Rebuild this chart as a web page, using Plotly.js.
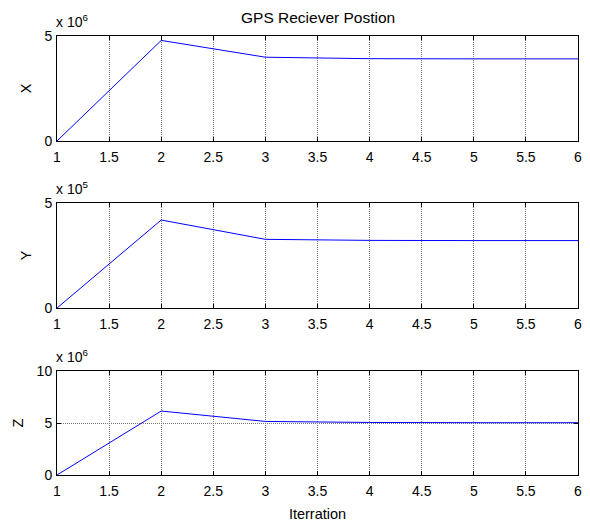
<!DOCTYPE html>
<html>
<head>
<script src="https://cdn.plot.ly/plotly-3.0.1.min.js"></script>
<style>html,body{margin:0;padding:0;background:#fff;}</style>
</head>
<body>
<div id="chart" style="width:590px;height:525px;"></div>
<script>
const iterations = [1, 2, 3, 4, 5, 6];
const xPos = [0, 4.79e6, 3.99e6, 3.92e6, 3.91e6, 3.91e6];
const yPos = [0, 4.19e5, 3.27e5, 3.22e5, 3.21e5, 3.21e5];
const zPos = [0, 6.15e6, 5.15e6, 5.05e6, 5.03e6, 5.03e6];
const xTicks = [1, 1.5, 2, 2.5, 3, 3.5, 4, 4.5, 5, 5.5, 6];
const titleText = 'GPS Reciever Postion';
const xLabel = 'Iterration';

const W = 590, H = 525;
const px = (a, b) => [a / W, b / W];
const py = (top, bot) => [1 - bot / H, 1 - top / H];
const fam = 'Liberation Sans, Arial, sans-serif';
const font = {family: fam, size: 14.5, color: '#000'};
const titleFont = {family: fam, size: 15.5, color: '#000'};
const tickFont = {family: fam, size: 14, color: '#000'};

function xa(anchor, showTitle) {
  const a = {
    domain: px(57, 578), range: [1, 6], anchor: anchor,
    tickvals: xTicks, ticktext: xTicks.map(String),
    ticks: 'inside', ticklen: 4, tickcolor: '#000',
    showline: true, linecolor: '#000', linewidth: 1, mirror: 'ticks',
    showgrid: true, gridcolor: '#777', griddash: '1px,1px', gridwidth: 1,
    zeroline: false, tickfont: tickFont, ticklabelstandoff: 3
  };
  if (showTitle) a.title = {text: xLabel, font: font, standoff: 11};
  return a;
}
function ya(anchor, dom, range, vals, texts, label) {
  return {
    domain: dom, range: range, anchor: anchor,
    tickvals: vals, ticktext: texts,
    ticks: 'inside', ticklen: 4, tickcolor: '#000',
    showline: true, linecolor: '#000', linewidth: 1, mirror: 'ticks',
    showgrid: true, gridcolor: '#777', griddash: '1px,1px', gridwidth: 1,
    zeroline: false, tickfont: tickFont, ticklabelstandoff: 1,
    title: {text: label, font: font, standoff: 9}
  };
}

const line = {color: '#0000ff', width: 1};
const data = [
  {x: iterations, y: xPos, xaxis: 'x', yaxis: 'y', mode: 'lines', line: line},
  {x: iterations, y: yPos, xaxis: 'x2', yaxis: 'y2', mode: 'lines', line: line},
  {x: iterations, y: zPos, xaxis: 'x3', yaxis: 'y3', mode: 'lines', line: line}
];

const layout = {
  width: W, height: H,
  margin: {l: 0, r: 0, t: 0, b: 0},
  paper_bgcolor: '#fff', plot_bgcolor: '#fff',
  showlegend: false,
  font: font,
  xaxis: xa('y', false),
  yaxis: ya('x', py(36, 141), [0, 5e6], [0, 5e6], ['0', '5'], 'X'),
  xaxis2: xa('y2', false),
  yaxis2: ya('x2', py(203, 308), [0, 5e5], [0, 5e5], ['0', '5'], 'Y'),
  xaxis3: xa('y3', true),
  yaxis3: ya('x3', py(371, 475), [0, 1e7], [0, 5e6, 1e7], ['0', '5', '10'], 'Z'),
  annotations: [
    {text: titleText, xref: 'paper', yref: 'paper', x: (57 + 578) / 2 / W, y: 1 - 17 / H,
     xanchor: 'center', yanchor: 'middle', showarrow: false, font: titleFont},
    {text: 'x 10<sup>6</sup>', xref: 'paper', yref: 'paper', x: 54 / W, y: 1 - 32 / H,
     xanchor: 'left', yanchor: 'bottom', showarrow: false, font: tickFont},
    {text: 'x 10<sup>5</sup>', xref: 'paper', yref: 'paper', x: 54 / W, y: 1 - 199 / H,
     xanchor: 'left', yanchor: 'bottom', showarrow: false, font: tickFont},
    {text: 'x 10<sup>6</sup>', xref: 'paper', yref: 'paper', x: 54 / W, y: 1 - 367 / H,
     xanchor: 'left', yanchor: 'bottom', showarrow: false, font: tickFont}
  ]
};

Plotly.newPlot('chart', data, layout, {displayModeBar: false, staticPlot: true});
</script>
</body>
</html>
